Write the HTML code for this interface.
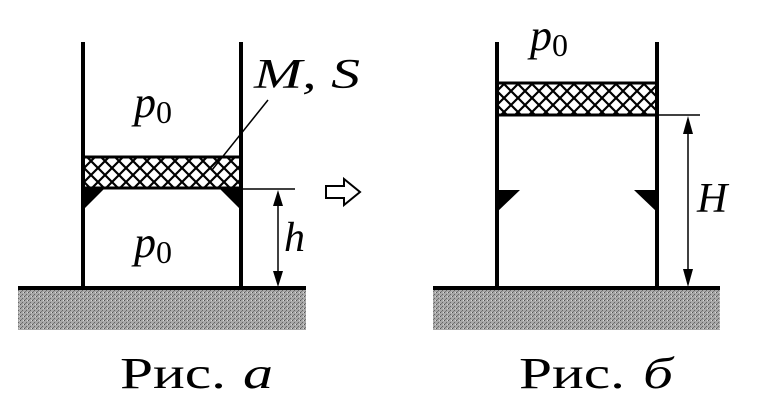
<!DOCTYPE html>
<html><head><meta charset="utf-8"><style>
html,body{margin:0;padding:0;background:#fff}
svg{display:block}
text{font-family:"Liberation Serif",serif;fill:#000}
</style></head><body>
<svg width="766" height="407" viewBox="0 0 766 407">
<defs>
<pattern id="x" width="14" height="14" patternUnits="userSpaceOnUse">
<path d="M0 0L14 14M14 0L0 14" stroke="#000" stroke-width="2.2"/>
</pattern>
<pattern id="g" width="4" height="4" patternUnits="userSpaceOnUse">
<rect width="4" height="4" fill="#a8a8a8"/><rect width="1" height="1" fill="#555"/><rect x="2" y="2" width="1" height="1" fill="#666"/><rect x="3" y="0" width="1" height="1" fill="#d8d8d8"/><rect x="1" y="3" width="1" height="1" fill="#777"/>
</pattern>
</defs>
<rect x="18" y="288" width="288" height="42" fill="url(#g)"/>
<line x1="18" y1="288" x2="306" y2="288" stroke="#000" stroke-width="4"/>
<line x1="83" y1="42" x2="83" y2="288" stroke="#000" stroke-width="4"/>
<line x1="241" y1="42" x2="241" y2="288" stroke="#000" stroke-width="4"/>
<rect x="83" y="157" width="158" height="31" fill="url(#x)" stroke="#000" stroke-width="3"/>
<polygon points="83,188 105,188 83,210" fill="#000"/>
<polygon points="241,188 219,188 241,210" fill="#000"/>
<line x1="241" y1="189" x2="295" y2="189" stroke="#000" stroke-width="1.5"/>
<line x1="278" y1="195" x2="278" y2="282" stroke="#000" stroke-width="1.5"/>
<polygon points="278,190 273,206 283,206" fill="#000"/>
<polygon points="278,287 273,271 283,271" fill="#000"/>
<line x1="212" y1="170" x2="268" y2="100" stroke="#000" stroke-width="1.5"/>
<text x="134" y="117" font-size="44" font-style="italic">p<tspan font-style="normal" font-size="32" dy="6">0</tspan></text>
<text x="134" y="257" font-size="44" font-style="italic">p<tspan font-style="normal" font-size="32" dy="6">0</tspan></text>
<text x="254" y="88" font-size="42" font-style="italic" textLength="106" lengthAdjust="spacingAndGlyphs">M, S</text>
<text x="284" y="251" font-size="42" font-style="italic">h</text>
<polygon points="326,186 344,186 344,179 360,192 344,205 344,198 326,198" fill="#fff" stroke="#000" stroke-width="2"/>
<rect x="433" y="288" width="287" height="42" fill="url(#g)"/>
<line x1="433" y1="288" x2="720" y2="288" stroke="#000" stroke-width="4"/>
<line x1="497" y1="42" x2="497" y2="288" stroke="#000" stroke-width="4"/>
<line x1="657" y1="42" x2="657" y2="288" stroke="#000" stroke-width="4"/>
<rect x="497" y="83" width="160" height="32" fill="url(#x)" stroke="#000" stroke-width="3"/>
<polygon points="497,190 520,190 497,212" fill="#000"/>
<polygon points="657,190 634,190 657,212" fill="#000"/>
<line x1="657" y1="115" x2="700" y2="115" stroke="#000" stroke-width="1.5"/>
<line x1="688" y1="120" x2="688" y2="282" stroke="#000" stroke-width="1.5"/>
<polygon points="688,116 683,134 693,134" fill="#000"/>
<polygon points="688,287 683,269 693,269" fill="#000"/>
<text x="530" y="50" font-size="44" font-style="italic">p<tspan font-style="normal" font-size="32" dy="6">0</tspan></text>
<text x="697" y="212" font-size="42" font-style="italic">H</text>
<text x="120" y="388" font-size="44" textLength="106" lengthAdjust="spacingAndGlyphs">Рис.</text>
<text x="243" y="388" font-size="44" font-style="italic" textLength="30" lengthAdjust="spacingAndGlyphs">a</text>
<text x="519" y="388" font-size="44" textLength="106" lengthAdjust="spacingAndGlyphs">Рис.</text>
<text x="643" y="388" font-size="44" font-style="italic" textLength="30" lengthAdjust="spacingAndGlyphs">б</text>
</svg>
</body></html>
